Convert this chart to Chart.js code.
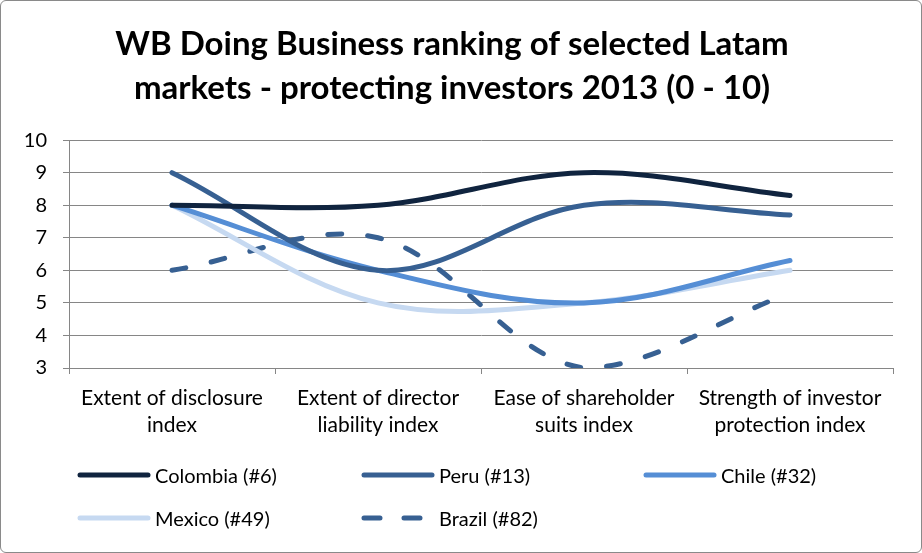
<!DOCTYPE html>
<html><head><meta charset="utf-8">
<script src="https://cdn.jsdelivr.net/npm/chart.js@4"></script>
<style>
html,body{margin:0;padding:0;background:#fff;}
#wrap{position:relative;width:920px;height:551px;border:1px solid #8a8a8a;border-radius:6px;overflow:hidden;background:#fff;}
canvas{position:absolute;left:0;top:0;}
#legend{position:absolute;left:0;top:0;width:920px;height:551px;pointer-events:none;font-family:Lato, sans-serif;font-size:20px;color:#000;}
.item{position:absolute;display:flex;align-items:center;white-space:nowrap;height:26px;}
.item svg{margin-right:4px;}
</style></head>
<body>
<div id="wrap"><canvas id="c" width="920" height="551"></canvas><div id="legend"></div></div>
<script>
const titleLines = ["WB Doing Business ranking of selected Latam", "markets - protecting investors 2013 (0 - 10)"];
const categories = [["Extent of disclosure","index"],["Extent of director","liability index"],["Ease of shareholder","suits index"],["Strength of investor","protection index"]];
const seriesNames = ["Colombia (#6)","Peru (#13)","Chile (#32)","Mexico (#49)","Brazil (#82)"];
const colombia = [8, 8, 9, 8.3];
const peru     = [9, 6, 8, 7.7];
const chile    = [8, 6, 5, 6.3];
const mexico   = [8, 5, 5, 6];
const brazil   = [6, 7, 3, 5.3];
const yMin = 3, yMax = 10, yStep = 1;

const colors = ["#10243f", "#376092", "#558ed5", "#c6d9f1", "#376092"];
const dashes = [[], [], [], [], [14, 26]];
const values = [colombia, peru, chile, mexico, brazil];

const datasets = values.map((v, i) => ({
  label: seriesNames[i],
  data: v,
  borderColor: colors[i],
  backgroundColor: colors[i],
  borderWidth: 5,
  borderDash: dashes[i],
  borderCapStyle: 'round',
  borderJoinStyle: 'round',
  pointRadius: 0,
  pointHoverRadius: 0,
  tension: 0.35,
  fill: false,
  order: i
}));

const FONT = "Lato, sans-serif";
new Chart(document.getElementById('c'), {
  type: 'line',
  data: { labels: categories, datasets },
  options: {
    responsive: false,
    animation: false,
    layout: { padding: { left: 10, right: 28, top: 0, bottom: 112 } },
    plugins: {
      legend: { display: false },
      tooltip: { enabled: false },
      title: {
        display: true, text: titleLines, color: '#000',
        font: { family: FONT, size: 33, weight: 'bold', lineHeight: 1.35 },
        padding: { top: 21, bottom: 29 }
      }
    },
    scales: {
      x: {
        type: 'category', offset: true,
        grid: { display: true, drawOnChartArea: false, drawTicks: true, tickLength: 6, color: '#868686', offset: true },
        border: { color: '#868686', width: 1 },
        ticks: { color: '#000', font: { family: FONT, size: 21, lineHeight: 1.28 }, padding: 11, maxRotation: 0, autoSkip: false },
        afterFit: s => { s.height = 72; }
      },
      y: {
        min: yMin, max: yMax,
        grid: { color: '#868686', tickLength: 6, lineWidth: 1 },
        border: { color: '#868686', width: 1 },
        ticks: { stepSize: yStep, color: '#000', font: { family: FONT, size: 20 }, padding: 16 },
        afterFit: s => { s.width = 58; }
      }
    }
  }
});

// HTML legend built from the series
const legendPos = [[76, 474], [360, 474], [642, 474], [76, 517], [360, 517]];
const lg = document.getElementById('legend');
seriesNames.forEach((name, i) => {
  const it = document.createElement('div');
  it.className = 'item';
  it.style.left = legendPos[i][0] + 'px';
  it.style.top = (legendPos[i][1] - 13) + 'px';
  const dash = dashes[i].length ? `stroke-dasharray="16 24"` : '';
  it.innerHTML = `<svg width="74" height="10"><line x1="3" y1="5" x2="71" y2="5" stroke="${colors[i]}" stroke-width="5" stroke-linecap="round" ${dash}/></svg><span>${name}</span>`;
  lg.appendChild(it);
});
</script>
</body></html>
